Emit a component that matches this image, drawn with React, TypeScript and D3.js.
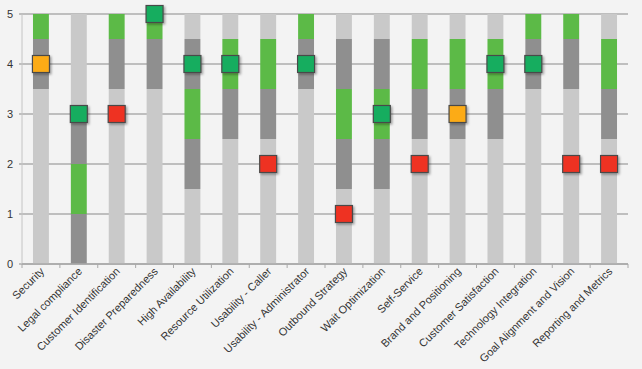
import React from "react";
import * as d3 from "d3";

const categories = [
  "Security",
  "Legal compliance",
  "Customer Identification",
  "Disaster Preparedness",
  "High Availability",
  "Resource Utilization",
  "Usability - Caller",
  "Usability - Administrator",
  "Outbound Strategy",
  "Wait Optimization",
  "Self-Service",
  "Brand and Positioning",
  "Customer Satisfaction",
  "Technology Integration",
  "Goal Alignment and Vision",
  "Reporting and Metrics",
];

// stacked band segments, bottom to top
const lowBand = [3.5, 0, 3.5, 3.5, 1.5, 2.5, 2.5, 3.5, 1.5, 1.5, 2.5, 2.5, 2.5, 3.5, 3.5, 2.5];
const midBandLower = [1, 1, 1, 1, 1, 1, 1, 1, 1, 1, 1, 1, 1, 1, 1, 1];
const targetBand = [0.5, 1, 0.5, 0.5, 1, 1, 1, 0.5, 1, 1, 1, 1, 1, 0.5, 0.5, 1];
const midBandUpper = [0, 1, 0, 0, 1, 0, 0, 0, 1, 1, 0, 0, 0, 0, 0, 0];
const highBand = [0, 2, 0, 0, 0.5, 0.5, 0.5, 0, 0.5, 0.5, 0.5, 0.5, 0.5, 0, 0, 0.5];

const scores = [4, 3, 3, 5, 4, 4, 2, 4, 1, 3, 2, 3, 4, 4, 2, 2];
const status = ["warn", "ok", "bad", "ok", "ok", "ok", "bad", "ok", "bad", "ok", "bad", "warn", "ok", "ok", "bad", "bad"];

const yTicks = [0, 1, 2, 3, 4, 5];

const seriesKeys = ["lowBand", "midBandLower", "targetBand", "midBandUpper", "highBand"];
const seriesColors: Record<string, string> = {
  lowBand: "#c9c9c9",
  midBandLower: "#8f8f8f",
  targetBand: "#5cba47",
  midBandUpper: "#8f8f8f",
  highBand: "#c9c9c9",
};
const statusColors: Record<string, string> = {
  ok: "#17ad5f",
  bad: "#ee3224",
  warn: "#fcab19",
};

export default function App() {
  const W = 642;
  const H = 369;
  const left = 22;
  const right = 628;
  const top = 14;
  const bottom = 264;

  const rows = categories.map((c, i) => ({
    cat: c,
    lowBand: lowBand[i],
    midBandLower: midBandLower[i],
    targetBand: targetBand[i],
    midBandUpper: midBandUpper[i],
    highBand: highBand[i],
  }));
  const stacked = d3.stack<any>().keys(seriesKeys)(rows);

  const x = d3.scaleBand<string>().domain(categories).range([left, right]).paddingInner(0.58).paddingOuter(0.29);
  const xCenter = (c: string) => (x(c) as number) + x.bandwidth() / 2;
  const step = (right - left) / categories.length;
  const y = d3.scaleLinear().domain([0, 5]).range([bottom, top]);
  const ms = 17;

  return (
    <div style={{ position: "absolute", left: 0, top: 0, width: W, height: H }}>
      <svg width={W} height={H} style={{ display: "block", fontFamily: "'Liberation Sans', Arial, sans-serif" }}>
        <defs>
          <filter id="shadow" x="-40%" y="-40%" width="180%" height="180%">
            <feDropShadow dx="1.5" dy="1.5" stdDeviation="1.2" floodColor="#000" floodOpacity="0.35" />
          </filter>
        </defs>
        <rect x={0} y={0} width={W} height={H} fill="#f3f3f3" />
        {/* grid */}
        {yTicks.map((t) => (
          <line key={"g" + t} x1={left - 3} x2={right} y1={y(t)} y2={y(t)} stroke="#bebebe" strokeWidth={2} />
        ))}
        <line x1={left} x2={left} y1={top} y2={bottom} stroke="#c4c4c4" strokeWidth={1} />
        {yTicks.map((t) => (
          <text key={"yl" + t} x={10} y={y(t)} dy="0.35em" textAnchor="middle" fontSize={11} fill="#333">
            {t}
          </text>
        ))}
        {/* bars */}
        {stacked.map((s) => (
          <g key={s.key} fill={seriesColors[s.key]}>
            {s.map((d, i) =>
              d[1] - d[0] > 0 ? (
                <rect
                  key={i}
                  x={x(categories[i])}
                  width={x.bandwidth()}
                  y={y(d[1])}
                  height={y(d[0]) - y(d[1])}
                />
              ) : null
            )}
          </g>
        ))}
        {/* x axis */}
        <line x1={left} x2={right} y1={bottom} y2={bottom} stroke="#a8a8a8" strokeWidth={1.5} />
        {d3.range(categories.length + 1).map((i) => (
          <line key={"t" + i} x1={left + i * step} x2={left + i * step} y1={bottom} y2={bottom + 4} stroke="#a8a8a8" strokeWidth={1} />
        ))}
        {categories.map((c) => (
          <text
            key={"xl" + c}
            transform={`translate(${xCenter(c) + 4},${bottom + 8}) rotate(-45)`}
            textAnchor="end"
            fontSize={11}
            fill="#333"
          >
            {c}
          </text>
        ))}
        {/* markers */}
        {categories.map((c, i) => (
          <rect
            key={"m" + c}
            x={xCenter(c) - ms / 2}
            y={y(scores[i]) - ms / 2}
            width={ms}
            height={ms}
            fill={statusColors[status[i]]}
            stroke="#4a4a4a"
            strokeWidth={1.2}
            filter="url(#shadow)"
          />
        ))}
      </svg>
    </div>
  );
}
